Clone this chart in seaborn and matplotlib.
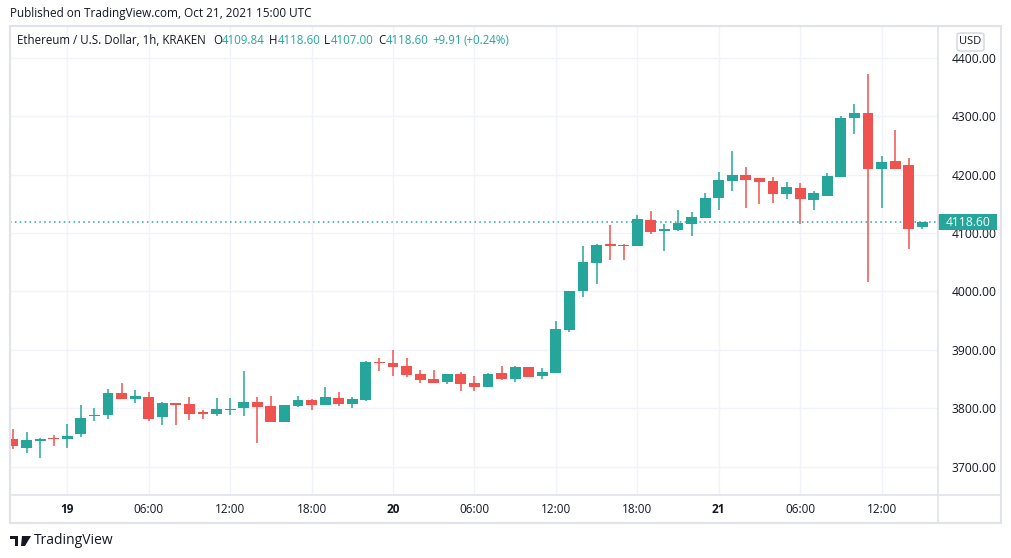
import matplotlib
matplotlib.use("Agg")
import matplotlib.pyplot as plt
import seaborn as sns
import numpy as np
import pandas as pd
from matplotlib.patches import Rectangle, FancyBboxPatch, Polygon

# ---- data (hourly candles, Oct 18 20:00 -> Oct 21 15:00 UTC) ----
opens = [3748, 3733, 3745, 3748, 3747, 3757, 3787, 3788, 3826, 3817,
         3820, 3786, 3809, 3808, 3794, 3791, 3798, 3801, 3811, 3804,
         3777, 3805, 3814, 3806, 3818, 3808, 3814, 3880, 3878, 3872,
         3859, 3850, 3846, 3859, 3843, 3837, 3861, 3851, 3871, 3856,
         3861, 3934, 4000, 4049, 4081, 4080, 4077, 4122, 4104, 4105,
         4116, 4126, 4160, 4189, 4199, 4194, 4189, 4166, 4177, 4157,
         4164, 4196, 4297, 4305, 4210, 4223, 4216, 4109.84]
highs = [3765, 3760, 3750, 3755, 3774, 3806, 3801, 3833, 3844, 3832,
         3828, 3811, 3809.5, 3820, 3797, 3818, 3818, 3864, 3820, 3821,
         3806, 3821, 3816, 3837, 3828, 3820, 3881, 3886, 3900, 3886,
         3865, 3865, 3859, 3863, 3855, 3861, 3873, 3873, 3871, 3869,
         3950, 4001, 4078, 4081, 4114, 4081, 4131, 4138, 4115, 4139,
         4136, 4168, 4204, 4240, 4213, 4194, 4196, 4187, 4186, 4172,
         4203, 4300, 4321, 4372, 4232, 4277, 4228, 4118.6]
lows = [3731, 3723, 3716, 3736, 3733, 3752, 3779, 3782, 3816, 3810,
        3779, 3771, 3772, 3780, 3782, 3787, 3789, 3787, 3741, 3777,
        3776, 3803, 3798, 3806, 3805, 3801, 3813, 3864, 3856, 3853,
        3844, 3844, 3841, 3830, 3830, 3837, 3849, 3846, 3853, 3850,
        3861, 3930, 3991, 4013, 4054, 4054, 4077, 4099, 4069, 4103,
        4095, 4126, 4140, 4172, 4142, 4150, 4152, 4159, 4116, 4140,
        4164, 4196, 4270, 4016, 4143, 4210, 4073, 4107.0]
closes = [3735, 3746, 3748, 3747, 3753, 3784, 3789, 3826, 3816, 3821,
          3782, 3809, 3806, 3791, 3791, 3799, 3799, 3811, 3803, 3777,
          3806, 3814, 3806, 3820, 3808, 3816, 3880, 3877, 3871, 3858,
          3849, 3844, 3859, 3841, 3837, 3859, 3850, 3871, 3854, 3862,
          3936, 4001, 4050, 4080, 4078, 4077, 4124, 4102, 4107, 4117,
          4127, 4160, 4191, 4199, 4191, 4188, 4167, 4179, 4159, 4168,
          4197, 4297, 4305, 4210, 4221, 4210, 4107, 4118.6]
tick_hours = [4, 10, 16, 22, 28, 34, 40, 46, 52, 58, 64]
tick_labels = ["19", "06:00", "12:00", "18:00", "20", "06:00", "12:00",
               "18:00", "21", "06:00", "12:00"]
day_labels = {"19", "20", "21"}
price_ticks = [3700, 3800, 3900, 4000, 4100, 4200, 4300, 4400]
last_price = 4118.60

UP = "#26a69a"
DOWN = "#ef5350"
TXT = "#131722"
GRID = "#f0f3fa"
BORDER = "#e0e3eb"

df = pd.DataFrame({"o": opens, "h": highs, "l": lows, "c": closes})
df["t"] = np.arange(len(df))
df["up"] = df["c"] >= df["o"]
df["color"] = np.where(df["up"], UP, DOWN)
df["bottom"] = df[["o", "c"]].min(axis=1)
df["height"] = (df["c"] - df["o"]).abs().clip(lower=1.8)

sns.set_theme(style="white")
plt.rcParams["font.family"] = ["Open Sans", "DejaVu Sans"]

W, H = 1012, 558
fig = plt.figure(figsize=(W / 100, H / 100), dpi=100)
fig.patch.set_facecolor("white")

x0, x1, ytop, ybot = 10, 938, 26, 495
ax = fig.add_axes([x0 / W, 1 - ybot / H, (x1 - x0) / W, (ybot - ytop) / H])
ax.set_facecolor("white")

# grid
for th in tick_hours:
    ax.axvline(th, color=GRID, lw=1, zorder=0)
for p in price_ticks:
    ax.axhline(p, color=GRID, lw=1, zorder=0)

# wicks and bodies
ax.vlines(df["t"], df["l"], df["h"], colors=df["color"], lw=1.1, zorder=2)
ax.bar(df["t"], df["height"], bottom=df["bottom"], width=0.8,
       color=df["color"], linewidth=0, zorder=3)

# last price dotted line
ax.axhline(last_price, color=UP, lw=1.1, ls=(0, (1, 2.2)), zorder=1)

ax.set_xlim(-0.22, 68.16)
ax.set_ylim(3652, 4454)
for s in ax.spines.values():
    s.set_visible(False)

ax.set_xticks(tick_hours)
ax.set_xticklabels(tick_labels)
for lab in ax.get_xticklabels():
    lab.set_fontsize(8.5)
    lab.set_color(TXT)
    if lab.get_text() in day_labels:
        lab.set_fontweight("bold")
ax.tick_params(axis="x", length=0, pad=6)

ax.yaxis.tick_right()
ax.set_yticks(price_ticks)
ax.set_yticklabels([f"{p:.2f}" for p in price_ticks])
ax.tick_params(axis="y", length=0, pad=10, labelsize=8.7, labelcolor=TXT)

# last price label (box on the price scale)
ax.add_patch(Rectangle((1.0, last_price - 13.7), 59 / (x1 - x0), 27.4,
                       transform=ax.get_yaxis_transform(), clip_on=False,
                       fc=UP, ec="none", zorder=5))
ax.text(1.0 + 30 / (x1 - x0), last_price, f"{last_price:.2f}",
        transform=ax.get_yaxis_transform(), ha="center", va="center",
        fontsize=8.7, color="white", zorder=6, clip_on=False)

# frame and separators (figure pixel coords)
def fx(px):
    return px / W

def fy(py):
    return 1 - py / H

fig.patches.append(Rectangle((fx(10), fy(523)), fx(1001) - fx(10), fy(26) - fy(523),
                             transform=fig.transFigure, fill=False, ec=BORDER, lw=1.5))
fig.lines.append(plt.Line2D([fx(938), fx(938)], [fy(523), fy(26)],
                            transform=fig.transFigure, color=BORDER, lw=1.2))
fig.lines.append(plt.Line2D([fx(10), fx(1001)], [fy(495), fy(495)],
                            transform=fig.transFigure, color=BORDER, lw=1.2))

# USD box
fig.patches.append(FancyBboxPatch((fx(957), fy(51)), fx(984) - fx(957), fy(33) - fy(51),
                                  boxstyle="round,pad=0,rounding_size=0.004",
                                  transform=fig.transFigure, fc="white", ec="#d1d4dc", lw=1))
fig.text(fx(970.5), fy(42), "USD", ha="center", va="center", fontsize=8, color=TXT)

# header texts
fig.text(fx(10), fy(14), "Published on TradingView.com, Oct 21, 2021 15:00 UTC",
         ha="left", va="center", fontsize=8.5, color=TXT)
parts = [
    (17, "Ethereum / U.S. Dollar, 1h, KRAKEN", TXT),
    (213, "O", TXT), (222, "4109.84", UP),
    (269, "H", TXT), (278, "4118.60", UP),
    (324, "L", TXT), (331, "4107.00", UP),
    (378, "C", TXT), (386, "4118.60", UP),
    (432, "+9.91", UP), (464, "(+0.24%)", UP),
]
for px, s, col in parts:
    fig.text(fx(px), fy(41), s, ha="left", va="center", fontsize=8.3, color=col)

# TradingView logo + wordmark
fig.patches.append(Polygon([(fx(10), fy(536)), (fx(18), fy(536)), (fx(18), fy(546)),
                            (fx(15), fy(546)), (fx(15), fy(539)), (fx(10), fy(539))],
                           closed=True, transform=fig.transFigure, fc=TXT, ec="none"))
fig.patches.append(Polygon([(fx(22), fy(536)), (fx(31), fy(536)), (fx(25), fy(546)),
                            (fx(21), fy(546))],
                           closed=True, transform=fig.transFigure, fc=TXT, ec="none"))
fig.text(fx(34), fy(541), "TradingView", ha="left", va="center", fontsize=10, color=TXT)

fig.savefig("out.png", dpi=100, facecolor="white")
